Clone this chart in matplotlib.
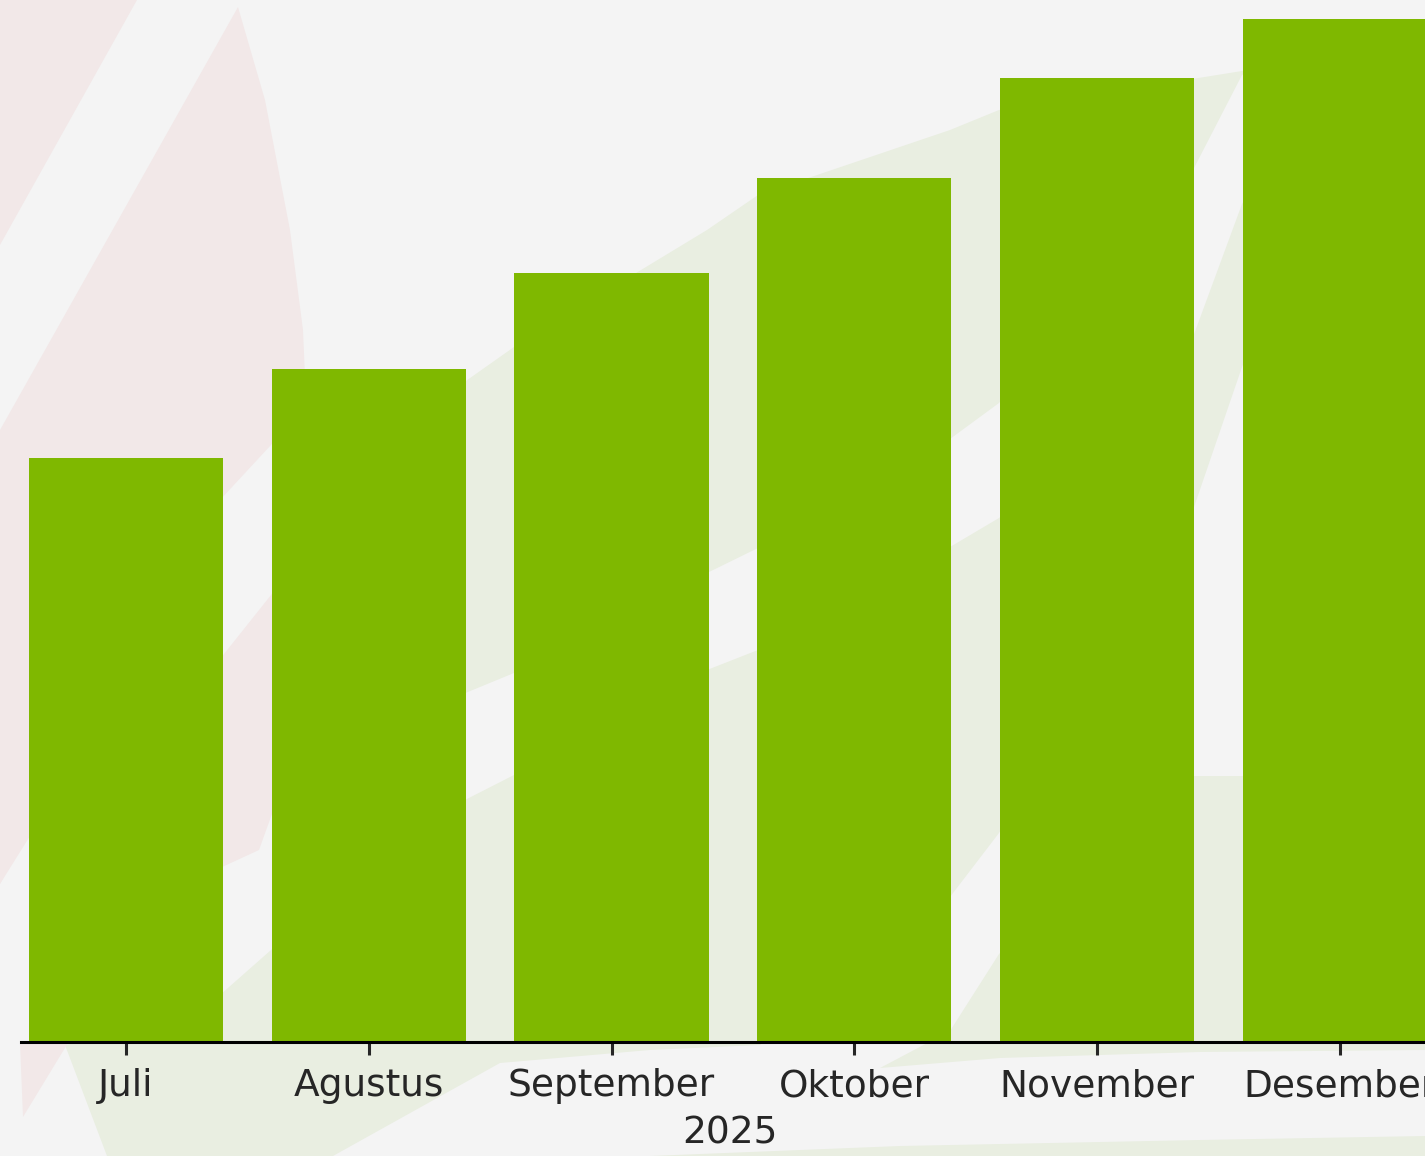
import matplotlib
matplotlib.use("Agg")
import matplotlib.pyplot as plt
from matplotlib.patches import Polygon

# ---- data ----
months = ["Juli", "Agustus", "September", "Oktober", "November", "Desember"]
values = [58.4, 67.3, 76.9, 86.4, 96.4, 102.3]
year_label = "2025"

BAR_COLOR = "#7fb800"
BG = "#f4f4f4"
PINK = "#f2e8e8"
GREEN = "#e9eee1"
TEXT = "#262626"

W, H = 1425, 1156
fig = plt.figure(figsize=(W / 100, H / 100), dpi=100, facecolor=BG)

# ---- decorative background (pixel space) ----
bg = fig.add_axes([0, 0, 1, 1], zorder=0)
bg.set_xlim(0, W)
bg.set_ylim(H, 0)
bg.axis("off")
bg.set_facecolor(BG)

greens = [
    [(1425, 50), (1242, 71), (999, 110), (950, 130), (758, 195), (707, 230),
     (514, 347), (463, 383), (300, 560), (300, 720),
     (463, 694), (514, 673), (707, 573), (758, 548), (950, 439),
     (999, 403), (1193, 170), (1242, 75), (1290, 52)],
    [(1330, 60), (1242, 204), (1193, 337), (999, 518), (950, 547), (758, 650),
     (707, 670), (514, 775), (463, 801), (271, 950), (220, 995), (120, 1035),
     (65, 1045), (107, 1156), (333, 1156), (500, 1063), (650, 1050),
     (760, 1045), (850, 980), (950, 897), (999, 833), (1193, 510),
     (1242, 367), (1300, 230)],
    [(1425, 765), (1300, 770), (1242, 776), (1193, 776), (1100, 860),
     (999, 954), (950, 1031), (880, 1068), (1000, 1058), (1200, 1052),
     (1425, 1050)],
    [(650, 1156), (900, 1146), (1200, 1140), (1425, 1136), (1425, 1156)],
]
pinks = [
    [(0, 0), (137, 0), (0, 245)],
    [(238, 7), (265, 100), (290, 230), (303, 330), (306, 400), (271, 445),
     (220, 500), (100, 620), (0, 740), (0, 430)],
    [(330, 520), (271, 595), (220, 659), (100, 760), (0, 850), (0, 884),
     (28, 826), (220, 868), (259, 850), (295, 750), (330, 660)],
    [(0, 700), (40, 660), (40, 820), (0, 884)],
    [(20, 1043), (68, 1043), (23, 1117)],
]
for pts in greens:
    bg.add_patch(Polygon(pts, closed=True, facecolor=GREEN, edgecolor="none"))
for pts in pinks:
    bg.add_patch(Polygon(pts, closed=True, facecolor=PINK, edgecolor="none"))

# ---- main chart ----
left = 21 / W
bottom = (H - 1042) / H
ax = fig.add_axes([left, bottom, 1418 / W, 1042 / H], zorder=1)
ax.patch.set_visible(False)

x = list(range(len(months)))
ax.bar(x, values, width=0.8, color=BAR_COLOR, zorder=2)

ax.set_xlim(-0.4325, 5.408)
ax.set_ylim(0, 104.2)

for s in ["top", "right", "left"]:
    ax.spines[s].set_visible(False)
ax.spines["bottom"].set_linewidth(2.2)
ax.spines["bottom"].set_color("black")
ax.spines["bottom"].set_zorder(3)

ax.set_yticks([])
ax.set_xticks(x)
ax.set_xticklabels(months, fontsize=27, color=TEXT, family="DejaVu Sans")
ax.tick_params(axis="x", length=9.5, width=2.2, pad=9.5, color=TEXT)
ax.set_xlabel(year_label, fontsize=27, color=TEXT, labelpad=8, family="DejaVu Sans")

fig.savefig("out.png", dpi=100, facecolor=BG)
